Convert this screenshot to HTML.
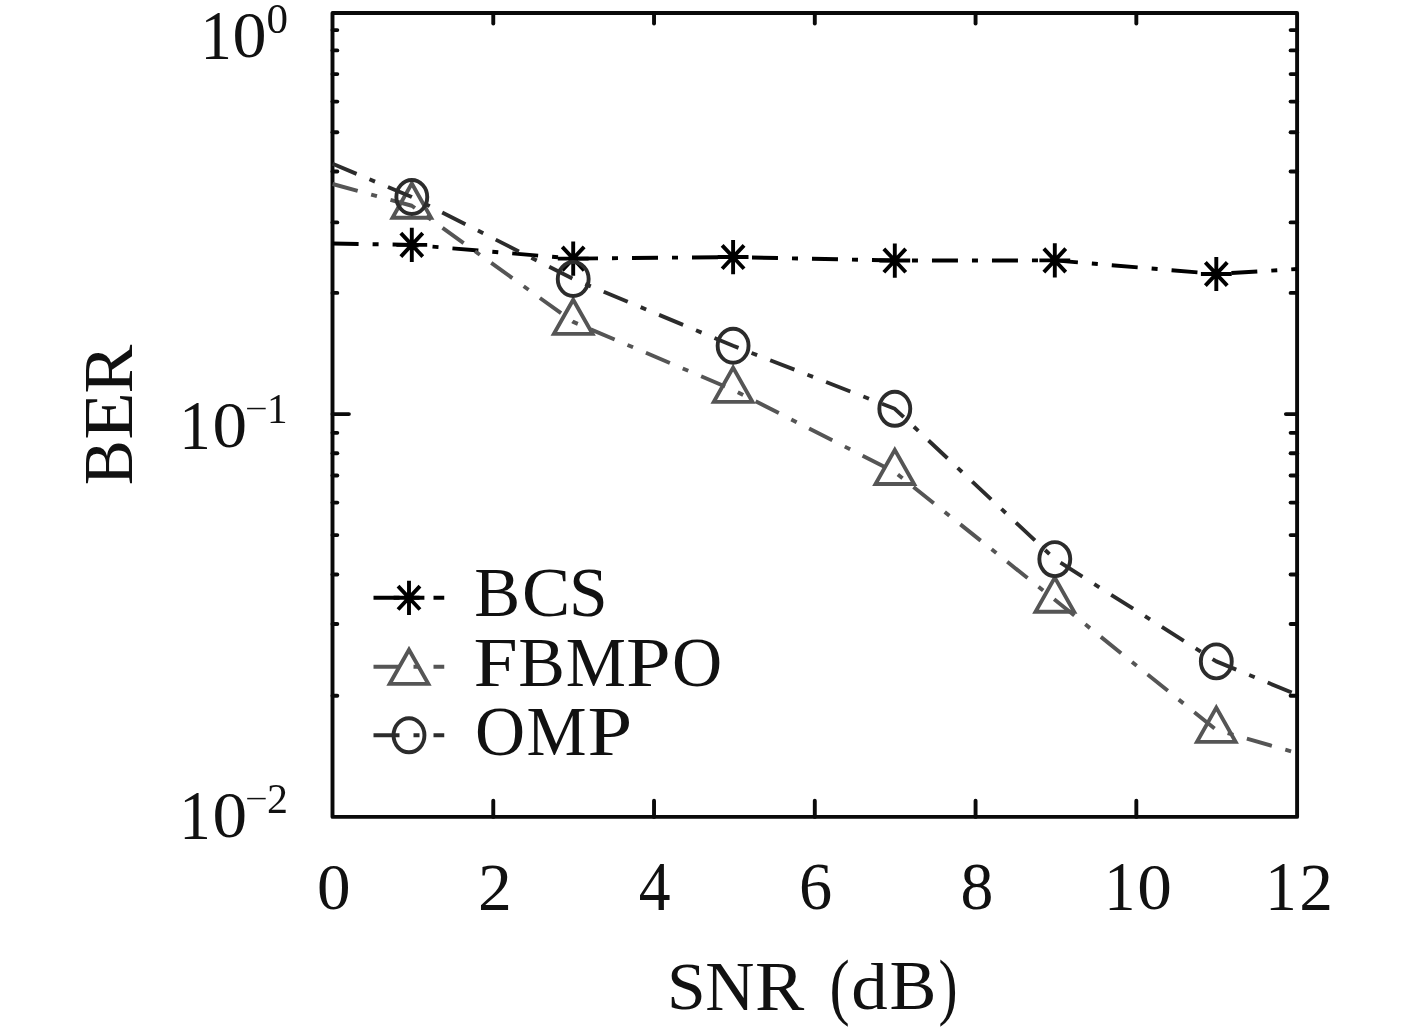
<!DOCTYPE html>
<html><head><meta charset="utf-8"><style>
html,body{margin:0;padding:0;background:#fff;width:1417px;height:1032px;overflow:hidden}
svg{display:block}
text{font-family:"Liberation Serif",serif}
.t{opacity:0.999}
</style></head><body>
<svg width="1417" height="1032" viewBox="0 0 1417 1032">
<rect width="1417" height="1032" fill="#fff"/>
<rect x="332.5" y="12.95" width="964.60" height="803.95" fill="none" stroke="#0a0a0a" stroke-width="3.9" stroke-linejoin="round"/>
<line x1="332.50" y1="414.10" x2="348.90" y2="414.10" stroke="#0a0a0a" stroke-width="3.9" stroke-linecap="round"/>
<line x1="1297.10" y1="414.10" x2="1285.90" y2="414.10" stroke="#0a0a0a" stroke-width="3.9" stroke-linecap="round"/>
<line x1="332.50" y1="30.10" x2="337.30" y2="30.10" stroke="#0a0a0a" stroke-width="3.9" stroke-linecap="round"/>
<line x1="1297.10" y1="30.10" x2="1290.60" y2="30.10" stroke="#0a0a0a" stroke-width="3.9" stroke-linecap="round"/>
<line x1="332.50" y1="50.40" x2="337.30" y2="50.40" stroke="#0a0a0a" stroke-width="3.9" stroke-linecap="round"/>
<line x1="1297.10" y1="50.40" x2="1290.60" y2="50.40" stroke="#0a0a0a" stroke-width="3.9" stroke-linecap="round"/>
<line x1="332.50" y1="74.10" x2="337.30" y2="74.10" stroke="#0a0a0a" stroke-width="3.9" stroke-linecap="round"/>
<line x1="1297.10" y1="74.10" x2="1290.60" y2="74.10" stroke="#0a0a0a" stroke-width="3.9" stroke-linecap="round"/>
<line x1="332.50" y1="101.60" x2="337.30" y2="101.60" stroke="#0a0a0a" stroke-width="3.9" stroke-linecap="round"/>
<line x1="1297.10" y1="101.60" x2="1290.60" y2="101.60" stroke="#0a0a0a" stroke-width="3.9" stroke-linecap="round"/>
<line x1="332.50" y1="132.30" x2="337.30" y2="132.30" stroke="#0a0a0a" stroke-width="3.9" stroke-linecap="round"/>
<line x1="1297.10" y1="132.30" x2="1290.60" y2="132.30" stroke="#0a0a0a" stroke-width="3.9" stroke-linecap="round"/>
<line x1="332.50" y1="171.50" x2="337.30" y2="171.50" stroke="#0a0a0a" stroke-width="3.9" stroke-linecap="round"/>
<line x1="1297.10" y1="171.50" x2="1290.60" y2="171.50" stroke="#0a0a0a" stroke-width="3.9" stroke-linecap="round"/>
<line x1="332.50" y1="222.40" x2="337.30" y2="222.40" stroke="#0a0a0a" stroke-width="3.9" stroke-linecap="round"/>
<line x1="1297.10" y1="222.40" x2="1290.60" y2="222.40" stroke="#0a0a0a" stroke-width="3.9" stroke-linecap="round"/>
<line x1="332.50" y1="292.90" x2="337.30" y2="292.90" stroke="#0a0a0a" stroke-width="3.9" stroke-linecap="round"/>
<line x1="1297.10" y1="292.90" x2="1290.60" y2="292.90" stroke="#0a0a0a" stroke-width="3.9" stroke-linecap="round"/>
<line x1="332.50" y1="432.85" x2="337.30" y2="432.85" stroke="#0a0a0a" stroke-width="3.9" stroke-linecap="round"/>
<line x1="1297.10" y1="432.85" x2="1290.60" y2="432.85" stroke="#0a0a0a" stroke-width="3.9" stroke-linecap="round"/>
<line x1="332.50" y1="453.30" x2="337.30" y2="453.30" stroke="#0a0a0a" stroke-width="3.9" stroke-linecap="round"/>
<line x1="1297.10" y1="453.30" x2="1290.60" y2="453.30" stroke="#0a0a0a" stroke-width="3.9" stroke-linecap="round"/>
<line x1="332.50" y1="475.50" x2="337.30" y2="475.50" stroke="#0a0a0a" stroke-width="3.9" stroke-linecap="round"/>
<line x1="1297.10" y1="475.50" x2="1290.60" y2="475.50" stroke="#0a0a0a" stroke-width="3.9" stroke-linecap="round"/>
<line x1="332.50" y1="502.60" x2="337.30" y2="502.60" stroke="#0a0a0a" stroke-width="3.9" stroke-linecap="round"/>
<line x1="1297.10" y1="502.60" x2="1290.60" y2="502.60" stroke="#0a0a0a" stroke-width="3.9" stroke-linecap="round"/>
<line x1="332.50" y1="535.10" x2="337.30" y2="535.10" stroke="#0a0a0a" stroke-width="3.9" stroke-linecap="round"/>
<line x1="1297.10" y1="535.10" x2="1290.60" y2="535.10" stroke="#0a0a0a" stroke-width="3.9" stroke-linecap="round"/>
<line x1="332.50" y1="574.50" x2="337.30" y2="574.50" stroke="#0a0a0a" stroke-width="3.9" stroke-linecap="round"/>
<line x1="1297.10" y1="574.50" x2="1290.60" y2="574.50" stroke="#0a0a0a" stroke-width="3.9" stroke-linecap="round"/>
<line x1="332.50" y1="624.07" x2="337.30" y2="624.07" stroke="#0a0a0a" stroke-width="3.9" stroke-linecap="round"/>
<line x1="1297.10" y1="624.07" x2="1290.60" y2="624.07" stroke="#0a0a0a" stroke-width="3.9" stroke-linecap="round"/>
<line x1="332.50" y1="695.70" x2="337.30" y2="695.70" stroke="#0a0a0a" stroke-width="3.9" stroke-linecap="round"/>
<line x1="1297.10" y1="695.70" x2="1290.60" y2="695.70" stroke="#0a0a0a" stroke-width="3.9" stroke-linecap="round"/>
<line x1="493.27" y1="816.90" x2="493.27" y2="800.70" stroke="#0a0a0a" stroke-width="3.9" stroke-linecap="round"/>
<line x1="493.27" y1="12.95" x2="493.27" y2="23.45" stroke="#0a0a0a" stroke-width="3.9" stroke-linecap="round"/>
<line x1="654.03" y1="816.90" x2="654.03" y2="800.70" stroke="#0a0a0a" stroke-width="3.9" stroke-linecap="round"/>
<line x1="654.03" y1="12.95" x2="654.03" y2="23.45" stroke="#0a0a0a" stroke-width="3.9" stroke-linecap="round"/>
<line x1="814.80" y1="816.90" x2="814.80" y2="800.70" stroke="#0a0a0a" stroke-width="3.9" stroke-linecap="round"/>
<line x1="814.80" y1="12.95" x2="814.80" y2="23.45" stroke="#0a0a0a" stroke-width="3.9" stroke-linecap="round"/>
<line x1="975.57" y1="816.90" x2="975.57" y2="800.70" stroke="#0a0a0a" stroke-width="3.9" stroke-linecap="round"/>
<line x1="975.57" y1="12.95" x2="975.57" y2="23.45" stroke="#0a0a0a" stroke-width="3.9" stroke-linecap="round"/>
<line x1="1136.33" y1="816.90" x2="1136.33" y2="800.70" stroke="#0a0a0a" stroke-width="3.9" stroke-linecap="round"/>
<line x1="1136.33" y1="12.95" x2="1136.33" y2="23.45" stroke="#0a0a0a" stroke-width="3.9" stroke-linecap="round"/>
<polyline points="332.60,243.50 411.80,244.90 573.20,258.60 733.10,257.05 894.80,260.55 1054.80,260.40 1216.30,274.00 1297.10,269.00" fill="none" stroke="#000000" stroke-width="3.9" stroke-dasharray="26 14 6 14" stroke-linejoin="round"/>
<path d="M411.80,227.80V262.00M396.40,244.90H427.20M400.84,233.20L422.76,256.60M400.84,256.60L422.76,233.20" stroke="#000000" stroke-width="3.9" fill="none"/>
<path d="M573.20,241.50V275.70M557.80,258.60H588.60M562.24,246.90L584.16,270.30M562.24,270.30L584.16,246.90" stroke="#000000" stroke-width="3.9" fill="none"/>
<path d="M733.10,239.95V274.15M717.70,257.05H748.50M722.14,245.35L744.06,268.75M722.14,268.75L744.06,245.35" stroke="#000000" stroke-width="3.9" fill="none"/>
<path d="M894.80,243.45V277.65M879.40,260.55H910.20M883.84,248.85L905.76,272.25M883.84,272.25L905.76,248.85" stroke="#000000" stroke-width="3.9" fill="none"/>
<path d="M1054.80,243.30V277.50M1039.40,260.40H1070.20M1043.84,248.70L1065.76,272.10M1043.84,272.10L1065.76,248.70" stroke="#000000" stroke-width="3.9" fill="none"/>
<path d="M1216.30,256.90V291.10M1200.90,274.00H1231.70M1205.34,262.30L1227.26,285.70M1205.34,285.70L1227.26,262.30" stroke="#000000" stroke-width="3.9" fill="none"/>
<polyline points="332.60,184.00 411.80,205.75 573.20,321.90 733.10,389.85 894.80,472.05 1054.80,599.80 1216.30,729.85 1297.10,753.00" fill="none" stroke="#555555" stroke-width="3.9" stroke-dasharray="26 14 6 14" stroke-linejoin="round"/>
<path d="M411.80,183.55L431.10,217.75L392.50,217.75Z" stroke="#555555" stroke-width="3.9" fill="none" stroke-linejoin="miter" stroke-miterlimit="10"/>
<path d="M573.20,299.70L592.50,333.90L553.90,333.90Z" stroke="#555555" stroke-width="3.9" fill="none" stroke-linejoin="miter" stroke-miterlimit="10"/>
<path d="M733.10,367.65L752.40,401.85L713.80,401.85Z" stroke="#555555" stroke-width="3.9" fill="none" stroke-linejoin="miter" stroke-miterlimit="10"/>
<path d="M894.80,449.85L914.10,484.05L875.50,484.05Z" stroke="#555555" stroke-width="3.9" fill="none" stroke-linejoin="miter" stroke-miterlimit="10"/>
<path d="M1054.80,577.60L1074.10,611.80L1035.50,611.80Z" stroke="#555555" stroke-width="3.9" fill="none" stroke-linejoin="miter" stroke-miterlimit="10"/>
<path d="M1216.30,707.65L1235.60,741.85L1197.00,741.85Z" stroke="#555555" stroke-width="3.9" fill="none" stroke-linejoin="miter" stroke-miterlimit="10"/>
<polyline points="332.60,163.80 411.80,197.00 573.20,279.00 733.10,345.75 894.80,408.80 1054.80,559.10 1216.30,661.40 1297.10,694.70" fill="none" stroke="#2c2c2c" stroke-width="3.9" stroke-dasharray="26 14 6 14" stroke-linejoin="round"/>
<ellipse cx="411.80" cy="197.00" rx="15.45" ry="17.0" stroke="#2c2c2c" stroke-width="3.9" fill="none"/>
<ellipse cx="573.20" cy="279.00" rx="15.45" ry="17.0" stroke="#2c2c2c" stroke-width="3.9" fill="none"/>
<ellipse cx="733.10" cy="345.75" rx="15.45" ry="17.0" stroke="#2c2c2c" stroke-width="3.9" fill="none"/>
<ellipse cx="894.80" cy="408.80" rx="15.45" ry="17.0" stroke="#2c2c2c" stroke-width="3.9" fill="none"/>
<ellipse cx="1054.80" cy="559.10" rx="15.45" ry="17.0" stroke="#2c2c2c" stroke-width="3.9" fill="none"/>
<ellipse cx="1216.30" cy="661.40" rx="15.45" ry="17.0" stroke="#2c2c2c" stroke-width="3.9" fill="none"/>
<line x1="373.5" y1="597.8" x2="444.25" y2="597.8" stroke="#000000" stroke-width="3.9" stroke-dasharray="26 14 6 14"/>
<path d="M409.00,580.70V614.90M393.60,597.80H424.40M398.04,586.10L419.96,609.50M398.04,609.50L419.96,586.10" stroke="#000000" stroke-width="3.9" fill="none"/>
<line x1="373.5" y1="666.75" x2="444.25" y2="666.75" stroke="#555555" stroke-width="3.9" stroke-dasharray="26 14 6 14"/>
<path d="M409.00,649.75L428.30,683.85L389.70,683.85Z" stroke="#555555" stroke-width="3.9" fill="none" stroke-linejoin="miter" stroke-miterlimit="10"/>
<line x1="373.5" y1="735.3" x2="444.25" y2="735.3" stroke="#2c2c2c" stroke-width="3.9" stroke-dasharray="26 14 6 14"/>
<ellipse cx="409.00" cy="735.30" rx="15.45" ry="17.0" stroke="#2c2c2c" stroke-width="3.9" fill="none"/>
<g class="t"><text x="100" y="400" font-size="200" fill="#111" transform="matrix(0.31300 0 0 0.34924 169.106 -80.925)">1</text>
<text x="100" y="400" font-size="200" fill="#111" transform="matrix(0.34036 0 0 0.32941 198.501 -74.292)">0</text>
<text x="100" y="400" font-size="200" fill="#111" transform="matrix(0.21548 0 0 0.20948 245.029 -51.172)">0</text>
<text x="100" y="400" font-size="200" fill="#111" transform="matrix(0.31557 0 0 0.34840 147.703 309.421)">1</text>
<text x="100" y="400" font-size="200" fill="#111" transform="matrix(0.34607 0 0 0.32726 177.794 316.342)">0</text>
<rect x="247.1" y="407.8" width="18.6" height="1.5" fill="#111"/>
<text x="100" y="400" font-size="200" fill="#111" transform="matrix(0.20571 0 0 0.21450 246.326 337.298)">1</text>
<text x="100" y="400" font-size="200" fill="#111" transform="matrix(0.31557 0 0 0.34840 147.703 699.421)">1</text>
<text x="100" y="400" font-size="200" fill="#111" transform="matrix(0.34607 0 0 0.32726 177.794 706.342)">0</text>
<rect x="247.2" y="797.85" width="18.5" height="1.5" fill="#111"/>
<text x="100" y="400" font-size="200" fill="#111" transform="matrix(0.21000 0 0 0.21144 246.110 728.364)">2</text>
<text x="100" y="400" font-size="200" fill="#111" transform="matrix(0.33571 0 0 0.32481 283.343 779.074)">0</text>
<text x="100" y="400" font-size="200" fill="#111" transform="matrix(0.33813 0 0 0.33902 444.194 774.044)">2</text>
<text x="100" y="400" font-size="200" fill="#111" transform="matrix(0.31828 0 0 0.34615 606.799 771.785)">4</text>
<text x="100" y="400" font-size="200" fill="#111" transform="matrix(0.33176 0 0 0.33582 765.738 774.900)">6</text>
<text x="100" y="400" font-size="200" fill="#111" transform="matrix(0.32857 0 0 0.33333 927.614 775.900)">8</text>
<text x="100" y="400" font-size="200" fill="#111" transform="matrix(0.31143 0 0 0.34580 1073.151 772.179)">1</text>
<text x="100" y="400" font-size="200" fill="#111" transform="matrix(0.34643 0 0 0.32519 1102.686 779.176)">0</text>
<text x="100" y="400" font-size="200" fill="#111" transform="matrix(0.31429 0 0 0.34580 1233.714 772.179)">1</text>
<text x="100" y="400" font-size="200" fill="#111" transform="matrix(0.33750 0 0 0.34091 1265.413 773.536)">2</text>
<text x="100" y="400" font-size="200" fill="#111" transform="matrix(0 -0.33729 0.34427 0 -5.810 518.853)">B</text>
<text x="100" y="400" font-size="200" fill="#111" transform="matrix(0 -0.39057 0.34427 0 -5.810 478.700)">E</text>
<text x="100" y="400" font-size="200" fill="#111" transform="matrix(0 -0.36693 0.34692 0 -6.869 430.294)">R</text>
<text x="100" y="400" font-size="200" fill="#111" transform="matrix(0.34814 0 0 0.34358 632.220 871.680)">S</text>
<text x="100" y="400" font-size="200" fill="#111" transform="matrix(0.34030 0 0 0.35000 671.228 869.800)">N</text>
<text x="100" y="400" font-size="200" fill="#111" transform="matrix(0.36929 0 0 0.35000 718.155 869.800)">R</text>
<text x="100" y="400" font-size="200" fill="#111" transform="matrix(0.30392 0 0 0.36933 799.173 862.955)">(</text>
<text x="100" y="400" font-size="200" fill="#111" transform="matrix(0.36484 0 0 0.32571 814.763 878.963)">d</text>
<text x="100" y="400" font-size="200" fill="#111" transform="matrix(0.35169 0 0 0.34389 854.320 871.793)">B</text>
<text x="100" y="400" font-size="200" fill="#111" transform="matrix(0.28654 0 0 0.36944 909.827 862.906)">)</text>
<text x="100" y="400" font-size="200" fill="#111" transform="matrix(0.34407 0 0 0.34809 439.929 477.063)">B</text>
<text x="100" y="400" font-size="200" fill="#111" transform="matrix(0.36140 0 0 0.34627 485.868 477.600)">C</text>
<text x="100" y="400" font-size="200" fill="#111" transform="matrix(0.34767 0 0 0.34627 534.213 477.600)">S</text>
<text x="100" y="400" font-size="200" fill="#111" transform="matrix(0.39786 0 0 0.35000 433.787 545.900)">F</text>
<text x="100" y="400" font-size="200" fill="#111" transform="matrix(0.34983 0 0 0.35000 483.378 545.900)">B</text>
<text x="100" y="400" font-size="200" fill="#111" transform="matrix(0.33855 0 0 0.35269 531.813 544.823)">M</text>
<text x="100" y="400" font-size="200" fill="#111" transform="matrix(0.40196 0 0 0.35000 585.882 545.900)">P</text>
<text x="100" y="400" font-size="200" fill="#111" transform="matrix(0.34766 0 0 0.34851 637.253 546.200)">O</text>
<text x="100" y="400" font-size="200" fill="#111" transform="matrix(0.34688 0 0 0.34851 440.337 615.200)">O</text>
<text x="100" y="400" font-size="200" fill="#111" transform="matrix(0.33765 0 0 0.35385 492.759 613.462)">M</text>
<text x="100" y="400" font-size="200" fill="#111" transform="matrix(0.40206 0 0 0.35115 547.381 614.542)">P</text></g>
</svg>
</body></html>
